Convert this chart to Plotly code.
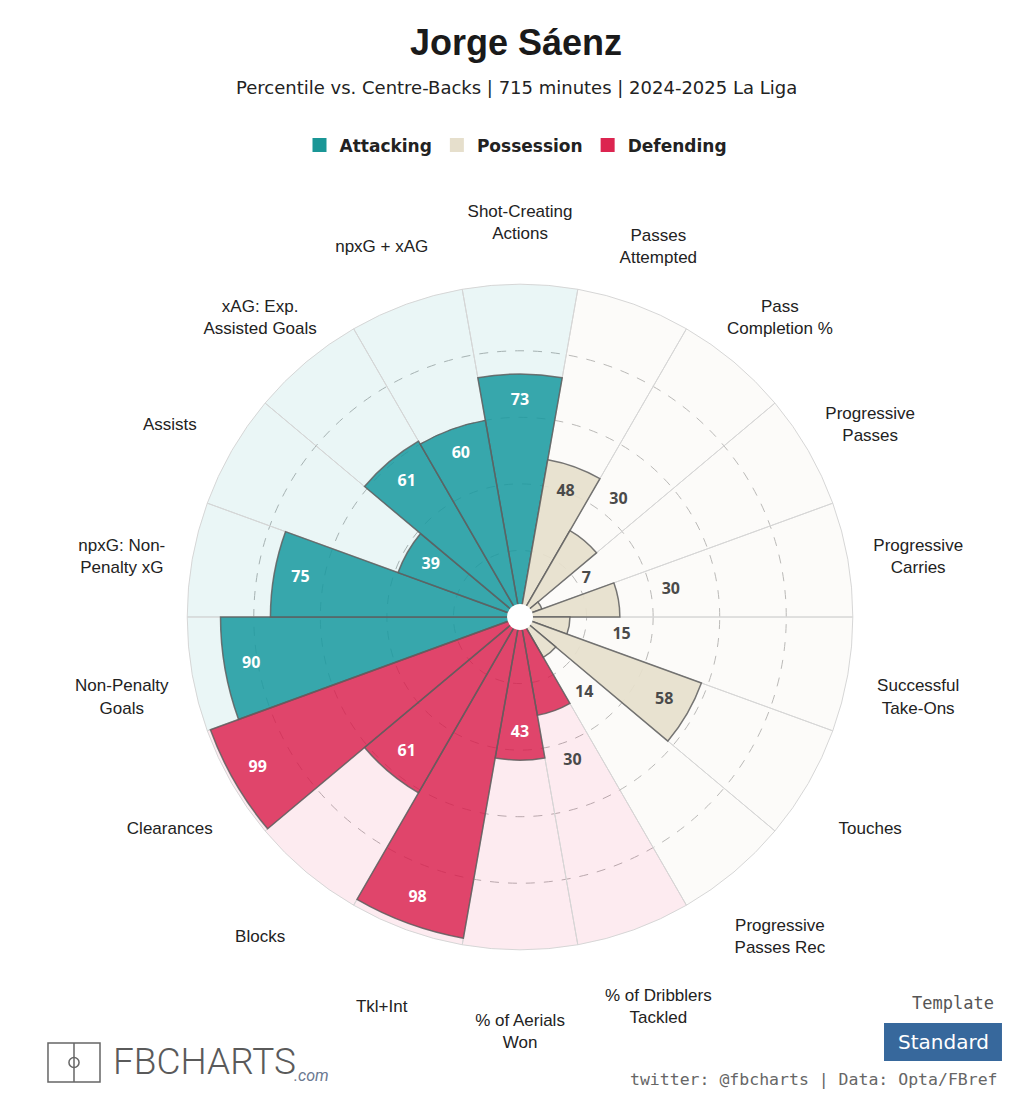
import plotly.graph_objects as go

# stats, clockwise from the top
categories = [
    "Shot-Creating<br>Actions", "Passes<br>Attempted", "Pass<br>Completion %",
    "Progressive<br>Passes", "Progressive<br>Carries", "Successful<br>Take-Ons",
    "Touches", "Progressive<br>Passes Rec", "% of Dribblers<br>Tackled",
    "% of Aerials<br>Won", "Tkl+Int", "Blocks", "Clearances",
    "Non-Penalty<br>Goals", "npxG: Non-<br>Penalty xG", "Assists",
    "xAG: Exp.<br>Assisted Goals", "npxG + xAG",
]
percentiles = [73, 48, 30, 7, 30, 15, 58, 14, 30, 43, 98, 61, 99, 90, 75, 39, 61, 60]
groups = ["Attacking"] + ["Possession"] * 7 + ["Defending"] * 5 + ["Attacking"] * 5
group_names = ["Attacking", "Possession", "Defending"]

solid = {"Attacking": "rgba(26,154,160,0.86)", "Possession": "rgba(230,223,204,0.92)",
         "Defending": "rgba(216,27,74,0.80)"}
light = {"Attacking": "rgba(26,154,160,0.09)", "Possession": "rgba(230,223,204,0.12)",
         "Defending": "rgba(235,60,110,0.10)"}
legend_col = {"Attacking": "#1a9696", "Possession": "#e6dfcc", "Defending": "#dc2550"}

fig = go.Figure()

# full-height background slices
fig.add_trace(go.Barpolar(
    r=[100] * len(categories), theta=categories,
    marker=dict(color=[light[g] for g in groups], line=dict(color="#d6d6d6", width=1)),
    showlegend=False, hoverinfo="skip",
))

for g in group_names:
    idx = [i for i, x in enumerate(groups) if x == g]
    fig.add_trace(go.Barpolar(
        r=[percentiles[i] for i in idx], theta=[categories[i] for i in idx],
        marker=dict(color=solid[g], line=dict(color="rgba(95,95,95,0.85)", width=1.5)),
        name=g, showlegend=False,
    ))

# legend squares
for g in group_names:
    fig.add_trace(go.Scatterpolar(
        r=[None], theta=[categories[0]], mode="markers", name=g,
        marker=dict(symbol="square", size=14, color=legend_col[g]),
    ))

# value labels
label_r = [v - 8 if v >= 35 else v + 16 for v in percentiles]
label_col = []
for v, g in zip(percentiles, groups):
    if v < 35 or g == "Possession":
        label_col.append("#4a4a4a")
    else:
        label_col.append("white")
fig.add_trace(go.Scatterpolar(
    r=label_r, theta=categories, mode="text", text=[str(v) for v in percentiles],
    textfont=dict(family="Open Sans", size=16, color=label_col, weight="bold"),
    showlegend=False, hoverinfo="skip", cliponaxis=False,
))

# stat names round the outside (empty first line nudges them down a little)
fig.add_trace(go.Scatterpolar(
    r=[121.5] * len(categories), theta=categories, mode="text",
    text=["<br>" + c for c in categories],
    textfont=dict(family="Liberation Sans", size=17, color="#222"),
    showlegend=False, hoverinfo="skip", cliponaxis=False,
))

# white hub in the middle
fig.add_trace(go.Scatterpolar(
    r=[0], theta=[categories[0]], mode="markers",
    marker=dict(size=26, color="white", line=dict(color="white", width=0)),
    showlegend=False, hoverinfo="skip", cliponaxis=False,
))

fig.update_layout(
    width=1032, height=1102,
    margin=dict(l=0, r=0, t=0, b=0),
    paper_bgcolor="white",
    polar=dict(
        domain=dict(x=[0.1008, 0.907], y=[0.0626, 0.8176]),
        bgcolor="rgba(0,0,0,0)",
        barmode="overlay",
        bargap=0,
        radialaxis=dict(range=[0, 125], tickvals=[20, 40, 60, 80], showticklabels=False,
                        ticks="", showline=False, gridcolor="#b5b5b5", griddash="dash",
                        gridwidth=1),
        angularaxis=dict(type="category", categoryarray=categories, rotation=90,
                         direction="clockwise", showgrid=False, showticklabels=False,
                         ticks="", showline=False),
    ),
    legend=dict(orientation="h", x=0.5, xanchor="center", y=0.868, yanchor="middle",
                font=dict(family="DejaVu Sans", size=17, color="#222", weight="bold"),
                itemwidth=30, bgcolor="rgba(0,0,0,0)"),
    showlegend=True,
)

fig.add_annotation(x=0.5, y=0.961, xref="paper", yref="paper", showarrow=False,
                   xanchor="center", yanchor="middle", text="<b>Jorge Sáenz</b>",
                   font=dict(family="Liberation Sans", size=36, color="#1a1a1a"))
fig.add_annotation(x=0.5, y=0.921, xref="paper", yref="paper", showarrow=False,
                   xanchor="center", yanchor="middle",
                   text="Percentile vs. Centre-Backs | 715 minutes | 2024-2025 La Liga",
                   font=dict(family="DejaVu Sans", size=18, color="#222"))

# bottom right: template box and credits
fig.add_annotation(x=0.9235, y=0.0898, xref="paper", yref="paper", showarrow=False,
                   xanchor="center", yanchor="middle", text="Template",
                   font=dict(family="DejaVu Sans Mono", size=17, color="#555"))
fig.add_shape(type="rect", xref="paper", yref="paper", x0=0.8566, x1=0.9709,
              y0=0.0372, y1=0.0717, fillcolor="#37689c", line=dict(width=0))
fig.add_annotation(x=0.9138, y=0.0548, xref="paper", yref="paper", showarrow=False,
                   xanchor="center", yanchor="middle", text="Standard",
                   font=dict(family="DejaVu Sans", size=20, color="white"))
fig.add_annotation(x=0.969, y=0.020, xref="paper", yref="paper", showarrow=False,
                   xanchor="right", yanchor="middle",
                   text="twitter: @fbcharts | Data: Opta/FBref",
                   font=dict(family="DejaVu Sans Mono", size=16.5, color="#666"))

# bottom left: logo
fig.add_shape(type="rect", xref="paper", yref="paper", x0=0.0465, x1=0.0969,
              y0=0.0181, y1=0.0535, line=dict(color="#666", width=1.5))
fig.add_shape(type="line", xref="paper", yref="paper", x0=0.0717, x1=0.0717,
              y0=0.0181, y1=0.0535, line=dict(color="#666", width=1.5))
fig.add_shape(type="circle", xref="paper", yref="paper", x0=0.0668, x1=0.0766,
              y0=0.0313, y1=0.0403, line=dict(color="#666", width=1.5))
fig.add_annotation(x=0.1075, y=0.0363, xref="paper", yref="paper", showarrow=False,
                   xanchor="left", yanchor="middle", text="FBCHARTS",
                   font=dict(family="Liberation Sans Narrow, Roboto", size=37,
                             color="#5a5a5a", weight=300))
fig.add_annotation(x=0.283, y=0.0245, xref="paper", yref="paper", showarrow=False,
                   xanchor="left", yanchor="middle", text="<i>.com</i>",
                   font=dict(family="Roboto", size=16, color="#6a7890"))

fig.write_html("out.html", config={"displayModeBar": False},
               post_script="document.body.style.margin='0';")
